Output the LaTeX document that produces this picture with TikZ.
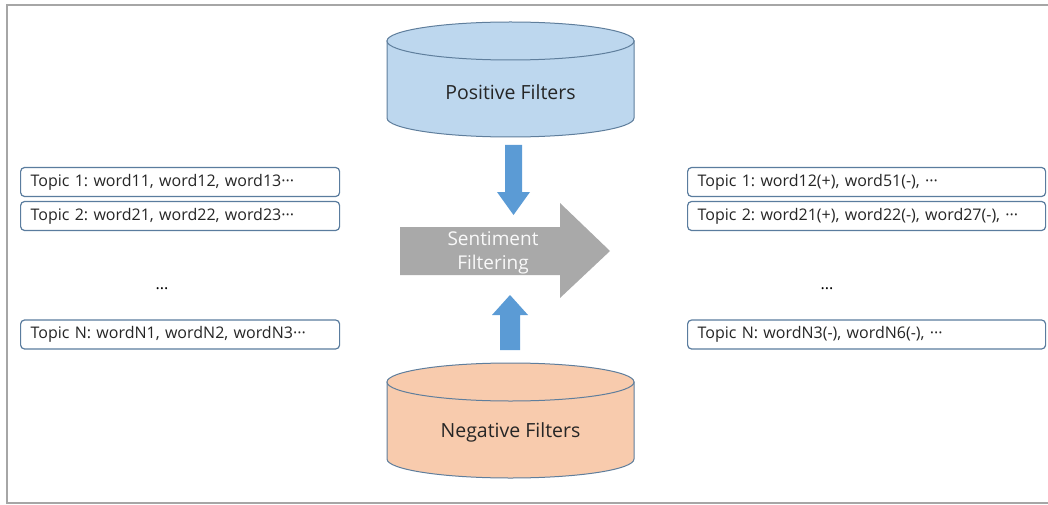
\documentclass[tikz,border=0pt]{standalone}
\usepackage{fontspec}
\setmainfont{Open Sans}
\usetikzlibrary{calc}

\definecolor{framegray}{HTML}{A6A6A6}
\definecolor{posfill}{HTML}{BDD7EE}
\definecolor{negfill}{HTML}{F8CBAD}
\definecolor{dbline}{HTML}{5F7E9C}
\definecolor{arrowblue}{HTML}{5B9BD5}
\definecolor{arrowgray}{HTML}{A9A9A9}
\definecolor{boxline}{HTML}{5A7C9E}

\tikzset{
  topicbox/.style={draw=boxline, line width=1.2pt, rounded corners=4pt, fill=white,
    minimum height=29pt, inner xsep=10pt, inner ysep=0pt, align=left,
    font=\fontsize{16}{18}\selectfont, text=black!85, anchor=west},
  dbtext/.style={font=\fontsize{19.5}{22}\selectfont, text=black!85},
  dbline/.style={draw=dbline, line width=1pt}
}
\frenchspacing

\begin{document}
\begin{tikzpicture}[x=1pt, y=-1pt]
  \useasboundingbox (0,0) rectangle (1048,505);

  % Coordinates
  \coordinate (PT) at (510.5, 41);
  \coordinate (PB) at (510.5, 118);
  \coordinate (NT) at (510.5, 382);
  \coordinate (NB) at (510.5, 459);

  % Frame
  \draw[framegray, line width=1.8pt] (1048,5) -- (7,5) -- (7,503) -- (1048,503);

  % Positive filters
  \path[dbline, fill=posfill] ($(PT)+(-123.5,0)$) -- ($(PB)+(-123.5,0)$)
    arc[start angle=180, end angle=360, x radius=123.5pt, y radius=19pt]
    -- ($(PT)+(123.5,0)$) -- cycle;
  \path[dbline, fill=posfill] (PT) ellipse [x radius=123.5pt, y radius=19pt];
  \node[dbtext] (pos) at (510.5, 92) {Positive Filters};

  % Negative filters
  \path[dbline, fill=negfill] ($(NT)+(-123.5,0)$) -- ($(NB)+(-123.5,0)$)
    arc[start angle=180, end angle=360, x radius=123.5pt, y radius=19pt]
    -- ($(NT)+(123.5,0)$) -- cycle;
  \path[dbline, fill=negfill] (NT) ellipse [x radius=123.5pt, y radius=19pt];
  \node[dbtext] (neg) at (510.5, 432) {Negative Filters};

  % Arrows
  \fill[arrowgray] (400,227) -- (560,227) -- (560,203) -- (610,251)
    -- (560,298) -- (560,275) -- (400,275) -- cycle;
  \node[text=white!95!gray, font=\fontsize{19}{24}\selectfont, align=center] (sf) at (493, 253)
    {Sentiment\\Filtering};
  \fill[arrowblue] (505,145) -- (522,145) -- (522,192) -- (530,192)
    -- (513.5,215) -- (497,192) -- (505,192) -- cycle;
  \fill[arrowblue] (500,350) -- (520,350) -- (520,315) -- (528,315)
    -- (510,295) -- (492,315) -- (500,315) -- cycle;

  % Topics before
  \node[topicbox, text width=299pt] (l1) at (20,182) {Topic 1: word11, word12, word13\textperiodcentered\textperiodcentered\textperiodcentered};
  \node[topicbox, text width=299pt] (l2) at (20,216) {Topic 2: word21, word22, word23\textperiodcentered\textperiodcentered\textperiodcentered};
  \node[font=\fontsize{16}{18}\selectfont] (ldots) at (162,289) {...};
  \node[topicbox, text width=299pt] (ln) at (20,334.5) {Topic N: wordN1, wordN2, wordN3\textperiodcentered\textperiodcentered\textperiodcentered};

  % Topics after
  \node[topicbox, text width=338pt] (r1) at (687,182) {Topic 1: word12(+), word51(-), \textperiodcentered\textperiodcentered\textperiodcentered};
  \node[topicbox, text width=338pt] (r2) at (687,216) {Topic 2: word21(+), word22(-), word27(-), \textperiodcentered\textperiodcentered\textperiodcentered};
  \node[font=\fontsize{16}{18}\selectfont] (rdots) at (827,289) {...};
  \node[topicbox, text width=338pt] (rn) at (687,334.5) {Topic N: wordN3(-), wordN6(-), \textperiodcentered\textperiodcentered\textperiodcentered};
\end{tikzpicture}
\end{document}
